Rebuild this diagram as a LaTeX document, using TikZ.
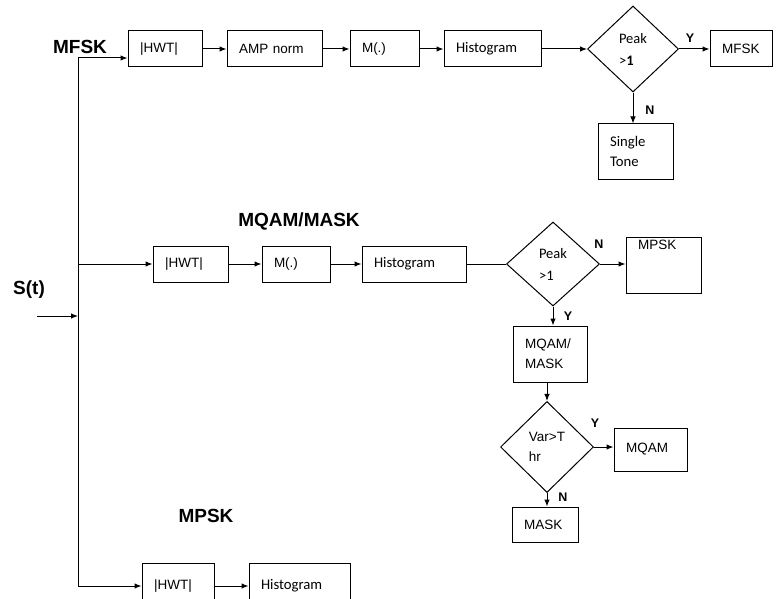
\documentclass[tikz,border=0pt]{standalone}
\usepackage{fontspec}
\setmainfont{Liberation Sans}
\newfontfamily\califont{Carlito}
\usetikzlibrary{shapes.geometric, arrows.meta, positioning}

\begin{document}
\begin{tikzpicture}[
  x=1pt, y=-1pt,
  box/.style 2 args={
    rectangle,
    draw,
    line width=1pt,
    minimum width=#1,
    text width=#1-24pt,
    minimum height=#2,
    inner xsep=12pt,
    inner ysep=0pt,
    align=left,
    font=\fontsize{13.5}{20}\selectfont
  },
  calbox/.style 2 args={box={#1}{#2}, font=\califont\fontsize{14.7}{20}\selectfont},
  decision/.style 2 args={
    diamond,
    draw,
    line width=1pt,
    minimum width=#1,
    minimum height=#2,
    inner sep=0pt,
    align=left,
    font=\califont\fontsize{14.5}{22}\selectfont
  },
  title/.style={font=\bfseries\fontsize{19}{22}\selectfont},
  yn/.style={font=\bfseries\fontsize{12.5}{14}\selectfont},
  arrow/.style={-{Latex[length=7pt,width=5.5pt]}, line width=1pt},
  link/.style={line width=1pt}
]
  \useasboundingbox (0,0) rectangle (776,599);
  \clip (0,0) rectangle (776,599);

  \node[title] (tfsk) at (80,47) {MFSK};
  \node[title] (tqam) at (299,221) {MQAM/MASK};
  \node[title] (tpsk) at (206,516) {MPSK};
  \node[title] (sig) at (29,290) {S(t)};

  \node[box={74pt}{36pt}] (hwtA) at (165,49) {|HWT|};
  \node[box={95pt}{36pt}] (amp) at (274.5,49) {AMP norm};
  \node[box={69pt}{36pt}] (mA) at (384.5,49) {M(.)};
  \node[calbox={97pt}{36pt}] (histA) at (492.5,49) {Histogram};
  \node[decision={91pt}{86pt}] (peakA) at (633,49) {Peak\\>\textbf{1}};
  \node[box={62pt}{36pt}] (mfsk) at (741,49) {MFSK};
  \node[calbox={75pt}{55pt}] (tone) at (635.5,151.5) {Single\\Tone};

  \node[box={75pt}{36pt}] (hwtB) at (190.5,264) {|HWT|};
  \node[box={68pt}{36pt}] (mB) at (296,264) {M(.)};
  \node[calbox={104pt}{36pt}] (histB) at (414,264) {Histogram};
  \node[decision={93pt}{84pt}] (peakB) at (553,264) {Peak\\>1};
  \node[box={75pt}{56pt}] (mpsk) at (663.5,265) {MPSK\\~\\~};
  \node[box={74pt}{56pt}] (qam) at (550,354) {MQAM/\\MASK};
  \node[decision={93pt}{91pt}, font=\fontsize{13.5}{20}\selectfont] (var) at (547,447) {Var>T\\hr};
  \node[box={73pt}{43pt}] (mqam) at (650.5,449.5) {MQAM};
  \node[box={66pt}{35pt}] (mask) at (545,524.5) {MASK};

  \node[box={72pt}{46pt}] (hwtC) at (178,586) {|HWT|};
  \node[calbox={101pt}{46pt}] (histC) at (299.5,586) {Histogram};

  \node[yn] (yA) at (690,38) {Y};
  \node[yn] (nA) at (650,110) {N};
  \node[yn] (nB) at (599,244) {N};
  \node[yn] (yB) at (568,316) {Y};
  \node[yn] (yC) at (595,423) {Y};
  \node[yn] (nC) at (563,497) {N};

  \coordinate (top) at (78,58);
  \coordinate (mid) at (78,264);
  \coordinate (bot) at (78,586);
  \coordinate (src) at (37,316);
  \coordinate (join) at (78,316);

  \draw[link] (top) -- (bot);
  \draw[arrow] (src) -- (join);
  \draw[arrow] (top) -- (top -| hwtA.west);
  \draw[arrow] (mid) -- (hwtB);
  \draw[arrow] (bot) -- (hwtC);

  \draw[arrow] (hwtA) -- (amp);
  \draw[arrow] (amp) -- (mA);
  \draw[arrow] (mA) -- (histA);
  \draw[arrow] (histA) -- (peakA);
  \draw[arrow] (peakA) -- (mfsk);
  \draw[arrow] (peakA) -- (peakA |- tone.north);

  \draw[arrow] (hwtB) -- (mB);
  \draw[arrow] (mB) -- (histB);
  \draw[link] (histB) -- (peakB);
  \draw[arrow] (peakB) -- (peakB.east -| mpsk.west);
  \draw[arrow] (peakB) -- (peakB |- qam.north);
  \draw[arrow] (qam.south -| var) -- (var);
  \draw[arrow] (var) -- (var.east -| mqam.west);
  \draw[arrow] (var) -- (var |- mask.north);

  \draw[arrow] (hwtC) -- (histC);
\end{tikzpicture}
\end{document}
